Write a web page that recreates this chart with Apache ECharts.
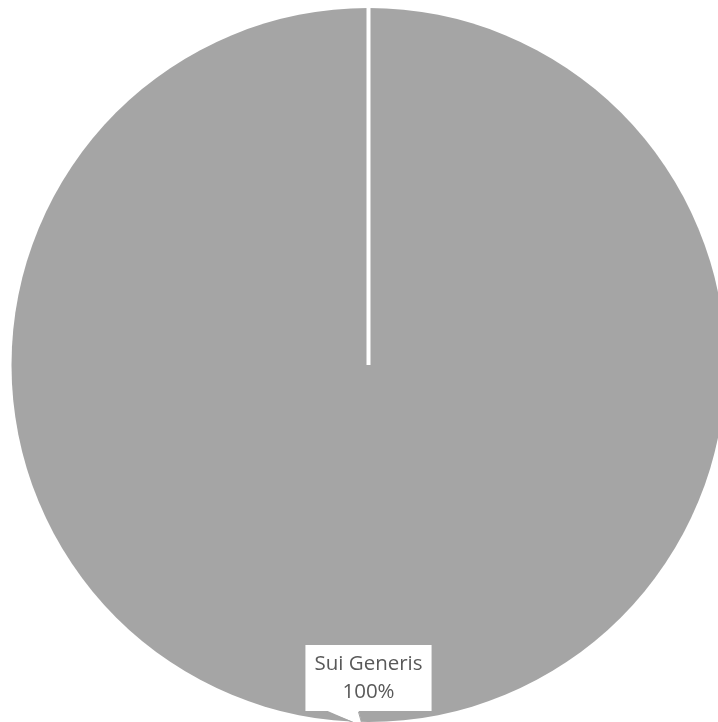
<!DOCTYPE html>
<html>
<head>
<meta charset="utf-8">
<style>
  html, body { margin: 0; padding: 0; background: #ffffff; }
  #chart { width: 718px; height: 722px; }
</style>
<script src="https://cdn.jsdelivr.net/npm/echarts@6/dist/echarts.min.js"></script>
</head>
<body>
<div id="chart"></div>
<script>
// Category names and their values
const categories = ['Sui Generis'];
const values = [100];

// Pie geometry (pixels)
const CX = 368.5;
const CY = 365;
const R = 357;

const chart = echarts.init(document.getElementById('chart'), null, { renderer: 'canvas' });

const seriesData = categories.map((name, i) => ({ name: name, value: values[i] }));

// Callout pointer below the label box, aimed at the rim of the slice
const boxBottom = CY + R - 10;
const pointerLeft = CX - 42;
const pointerRight = CX - 10;
const tipX = CX - 6;
const tipY = CY + R + 4;

chart.setOption({
  animation: false,
  backgroundColor: '#ffffff',
  series: [{
    type: 'pie',
    center: [CX, CY],
    radius: [0, R],
    startAngle: 90,
    clockwise: true,
    silent: true,
    itemStyle: { color: '#a5a5a5', borderWidth: 0 },
    label: {
      show: true,
      position: 'inside',
      formatter: '{b}\n{d}%',
      fontFamily: '"Open Sans", sans-serif',
      fontSize: 20.5,
      lineHeight: 28.5,
      color: '#595959',
      backgroundColor: '#ffffff',
      borderColor: '#a5a5a5',
      borderWidth: 1,
      padding: [5, 9, 4, 9],
      align: 'center'
    },
    labelLayout: function () {
      return { dy: R / 2 - 47 };
    },
    labelLine: { show: false },
    data: seriesData
  }],
  graphic: [
    {
      // radial edge where the single slice starts and ends
      type: 'line',
      z: 50,
      shape: { x1: CX, y1: CY - R - 2, x2: CX, y2: CY },
      style: { stroke: '#ffffff', lineWidth: 4 }
    },
    {
      type: 'polygon',
      z: 100,
      shape: { points: [[pointerLeft, boxBottom - 1.5], [pointerRight, boxBottom - 1.5], [tipX, tipY]] },
      style: { fill: '#ffffff' }
    },
    {
      type: 'polyline',
      z: 101,
      shape: { points: [[pointerLeft, boxBottom], [tipX, tipY], [pointerRight, boxBottom]] },
      style: { stroke: '#a5a5a5', lineWidth: 1, fill: null }
    }
  ]
});
</script>
</body>
</html>
